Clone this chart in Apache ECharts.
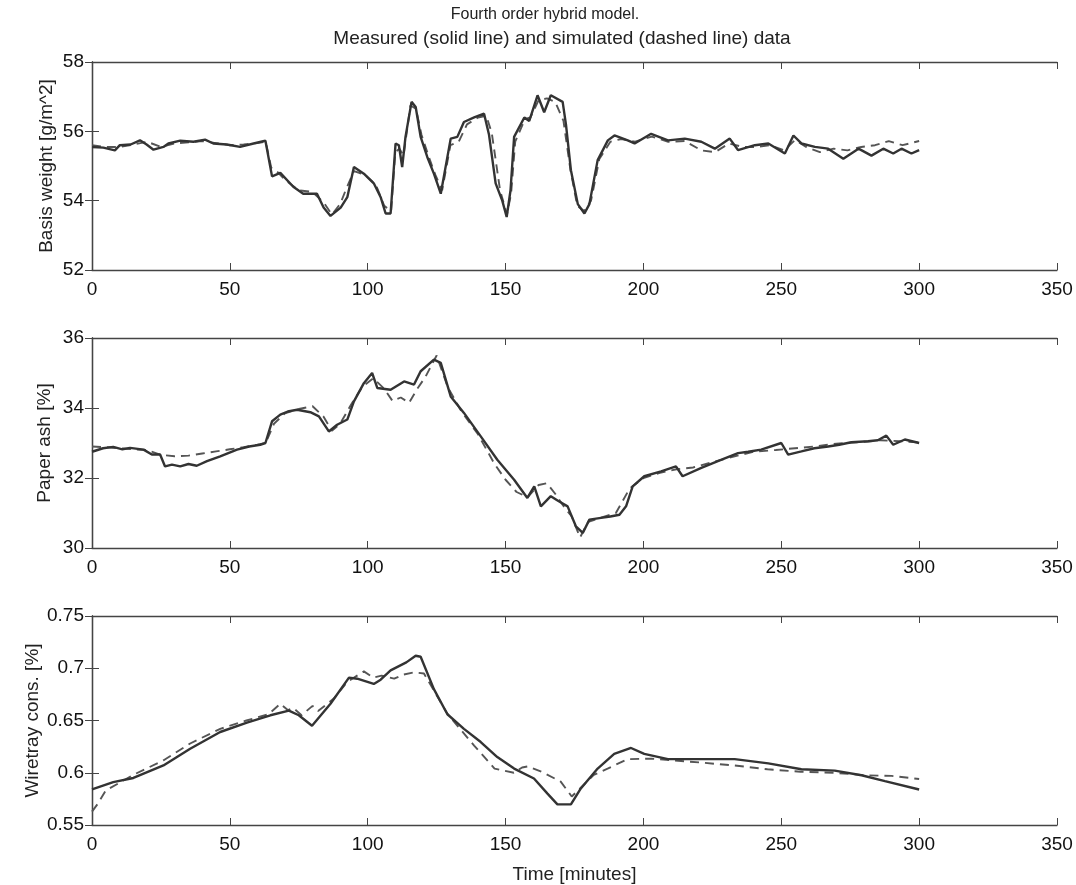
<!DOCTYPE html>
<html><head><meta charset="utf-8">
<script src="https://cdn.jsdelivr.net/npm/echarts@6/dist/echarts.min.js"></script>
<style>html,body{margin:0;padding:0;background:#fff}#c{width:1076px;height:885px}</style>
</head><body><div id="c"></div>
<script>
// ---- Data ----
const titleLine1 = "Fourth order hybrid model.";
const titleLine2 = "Measured (solid line) and simulated (dashed line) data";
const xTicks = [0, 50, 100, 150, 200, 250, 300, 350];

// Basis weight [g/m^2]
const basisMeasT = [0,4.1,8.3,10.1,14,17.4,19.8,22.3,25.9,27.7,32,36.8,41,44,48.9,53.7,58.6,62.9,65.3,68.3,73,76.6,81.6,84,86.5,90.2,92.6,95,98.6,102.2,104.7,106.5,108.3,110.1,111.3,112.5,113.7,115.9,117.4,119.2,121.6,124,126.5,130.1,132.5,134.9,138.6,142.2,144,146.4,148.8,150.4,151.8,153.1,156.8,158.6,161.6,164,166.4,170.7,171.9,173.7,176.2,178.6,180.4,183.4,187.1,189.5,194.3,196.8,202.8,208.9,215,221,225.9,231.3,234.3,240.4,245.3,251.3,254.4,257.3,262.2,267,272.5,278,282.7,287,290.6,293.6,297.2,300];
const basisMeas  = [55.55,55.53,55.45,55.6,55.62,55.74,55.62,55.47,55.55,55.65,55.73,55.7,55.76,55.65,55.62,55.55,55.65,55.73,54.7,54.8,54.4,54.2,54.2,53.8,53.56,53.8,54.1,54.97,54.78,54.5,54.1,53.63,53.63,55.65,55.6,54.97,55.84,56.85,56.7,55.84,55.26,54.78,54.2,55.79,55.84,56.27,56.4,56.51,55.9,54.5,54.0,53.53,54.3,55.84,56.4,56.3,57.04,56.55,57.04,56.85,56.2,54.88,53.9,53.63,53.9,55.17,55.74,55.88,55.74,55.65,55.93,55.74,55.79,55.7,55.5,55.79,55.46,55.6,55.65,55.36,55.88,55.65,55.55,55.5,55.21,55.5,55.3,55.5,55.36,55.5,55.36,55.46];
const basisSimT = [0,5,10,15,20,25,30,35,40,45,50,55,60,63,65,67,70,75,80,84,87,90,92,95,99,103,106,108.5,110,111.5,113,115.5,117.5,119.5,122,124.5,127,130,133,136,140,143,145,148,150.5,152,153.5,157,159,162,165,168,171,173.5,176,178.5,181,184,188,192,197,203,209,215,221,226,231,236,241,246,251,255,259,264,269,274,279,284,289,294,300];
const basisSim  = [55.6,55.55,55.55,55.62,55.7,55.55,55.65,55.68,55.72,55.66,55.6,55.62,55.66,55.7,54.95,54.85,54.6,54.3,54.25,53.95,53.6,53.9,54.3,54.85,54.75,54.45,53.85,53.7,55.4,55.5,55.3,56.75,56.65,55.9,55.3,54.75,54.3,55.6,55.7,56.2,56.4,56.45,55.95,54.3,53.6,54.2,55.7,56.35,56.4,56.9,56.95,56.85,56.3,54.9,53.85,53.7,54.0,55.2,55.7,55.78,55.7,55.85,55.7,55.72,55.45,55.4,55.65,55.55,55.55,55.6,55.45,55.75,55.55,55.4,55.5,55.45,55.55,55.6,55.72,55.6,55.72];

// Paper ash [%]
const ashMeasT = [0,4,7.7,11,13.8,18.7,21.7,24.7,26.5,29,32,35,38,41.7,46.5,52.6,57,61,62.9,65.3,68.3,71,74.4,79.2,82.3,85.9,88.9,92.6,95,98.6,101.6,103.5,108.3,113.2,116.8,119.2,124,126.5,130.1,134.9,141,147,153.1,157.9,160.4,162.8,166.4,169,172.5,175.5,178,180.4,184.6,188,191.3,193.7,196.1,200.3,206.4,211.8,214.2,221,227,234.3,238,242.7,250,252.5,257.3,262,267,271,275.4,281.5,285,288.1,290.6,294.8,300];
const ashMeas  = [32.75,32.85,32.89,32.82,32.86,32.81,32.67,32.67,32.33,32.38,32.33,32.4,32.35,32.48,32.62,32.81,32.9,32.95,33.0,33.62,33.81,33.9,33.95,33.88,33.76,33.33,33.52,33.67,34.19,34.71,35.0,34.57,34.52,34.76,34.67,35.05,35.38,35.29,34.33,33.86,33.19,32.52,31.95,31.43,31.76,31.19,31.48,31.35,31.19,30.62,30.43,30.81,30.86,30.9,30.95,31.19,31.76,32.05,32.19,32.33,32.05,32.29,32.48,32.71,32.75,32.81,33.0,32.67,32.76,32.85,32.9,32.95,33.02,33.05,33.08,33.21,32.95,33.1,33.0];
const ashSimT = [0,5,10,15,20,25,30,35,40,45,50,55,60,63,66,70,75,80,84,87,90,94,98,102,106,109,112,115,118,121,125,129,134,140,146,150,154,158,162,165,168,171,174,177,180,184,190,195,200,206,212,218,225,232,240,248,255,262,270,278,286,293,300];
const ashSimD  = [32.9,32.88,32.85,32.82,32.8,32.66,32.62,32.64,32.7,32.76,32.82,32.88,32.95,33.0,33.55,33.85,33.97,34.05,33.75,33.35,33.55,34.1,34.6,34.85,34.55,34.2,34.3,34.15,34.55,34.9,35.5,34.6,33.9,33.25,32.4,31.95,31.6,31.45,31.8,31.85,31.55,31.2,30.9,30.3,30.75,30.85,31.0,31.7,32.0,32.15,32.25,32.3,32.45,32.6,32.75,32.8,32.85,32.9,32.98,33.02,33.08,33.05,33.02];

// Wiretray cons. [%]
const wireMeasT = [0,7.7,15,25.9,35.6,46.5,56.2,64.7,71.4,75,79.8,86.5,93.2,96.2,102.2,104.7,108.3,114,117.4,119.2,124,128.9,134.9,141,147,153.1,160.3,165.2,168.8,173.7,177.3,183.4,189.4,195.5,200.3,208.9,221,233.1,245.3,257.3,269.4,279.1,287.6,300];
const wireMeas  = [0.584,0.591,0.595,0.607,0.623,0.639,0.648,0.655,0.6595,0.655,0.645,0.666,0.691,0.69,0.685,0.689,0.698,0.7056,0.712,0.711,0.68,0.656,0.642,0.6294,0.615,0.604,0.5945,0.58,0.5697,0.5697,0.585,0.604,0.618,0.6237,0.618,0.613,0.613,0.613,0.609,0.6033,0.602,0.5976,0.592,0.584];
const wireSimT = [0,2,5,15,26,35.6,46.5,56,64,68.3,71,73,76,80,82,87.7,92.6,98.6,102,105,109.6,113,116.8,120.4,129,138.6,146,153,156,158,163,170,174,177,182,187,194.3,203,221,233,245,257,269,281,290,300];
const wireSim  = [0.5628,0.57,0.583,0.598,0.612,0.628,0.642,0.65,0.656,0.666,0.66,0.662,0.655,0.664,0.659,0.671,0.687,0.697,0.691,0.693,0.69,0.694,0.696,0.695,0.656,0.626,0.604,0.6,0.605,0.606,0.601,0.5915,0.5773,0.585,0.598,0.604,0.613,0.6135,0.6097,0.607,0.6033,0.601,0.6,0.5975,0.597,0.594];

// ---- Chart ----
const zip = (t, v) => t.map((x, i) => [x, v[i]]);
const FONT = 'Liberation Sans, Arial, Helvetica, sans-serif';
const grids = [
  {left: 92, right: 19, top: 62, height: 208},
  {left: 92, right: 19, top: 338, height: 210},
  {left: 92, right: 19, top: 616, height: 210}
];
const yDefs = [
  {min: 52, max: 58, interval: 2, name: 'Basis weight [g/m^2]', gap: 36},
  {min: 30, max: 36, interval: 2, name: 'Paper ash [%]', gap: 38},
  {min: 0.55, max: 0.75, interval: 0.05, name: 'Wiretray cons. [%]', gap: 50}
];
const axisLine = {show: true, lineStyle: {color: '#444', width: 1.3}};
const tick = {inside: true, length: 7, lineStyle: {color: '#444'}};
const xAxes = [], yAxes = [];
grids.forEach((g, i) => {
  xAxes.push({
    type: 'value', gridIndex: i, min: 0, max: 350, interval: 50, position: 'bottom',
    axisLine: axisLine, axisTick: tick, splitLine: {show: false},
    axisLabel: {color: '#111', fontSize: 19, fontFamily: FONT, margin: 10},
    name: i === 2 ? 'Time [minutes]' : '', nameLocation: 'middle', nameGap: 40,
    nameMoveOverlap: false,
    nameTextStyle: {color: '#222', fontSize: 19, fontFamily: FONT}
  });
  xAxes.push({
    type: 'value', gridIndex: i, min: 0, max: 350, interval: 50, position: 'top',
    axisLine: axisLine, axisTick: tick, splitLine: {show: false}, axisLabel: {show: false}
  });
  const y = yDefs[i];
  yAxes.push({
    type: 'value', gridIndex: i, min: y.min, max: y.max, interval: y.interval, position: 'left',
    axisLine: axisLine, axisTick: tick, splitLine: {show: false},
    axisLabel: {color: '#111', fontSize: 19, fontFamily: FONT, margin: 8},
    name: y.name, nameLocation: 'middle', nameRotate: 90, nameGap: y.gap,
    nameMoveOverlap: false,
    nameTextStyle: {color: '#222', fontSize: 19, fontFamily: FONT}
  });
  yAxes.push({
    type: 'value', gridIndex: i, min: y.min, max: y.max, interval: y.interval, position: 'right',
    axisLine: axisLine, axisTick: tick, splitLine: {show: false}, axisLabel: {show: false}
  });
});
const solid = (data, i) => ({
  type: 'line', xAxisIndex: i * 2, yAxisIndex: i * 2, data: data, symbol: 'none',
  lineStyle: {color: '#333', width: 2.4, type: 'solid'}, z: 3
});
const dashed = (data, i) => ({
  type: 'line', xAxisIndex: i * 2, yAxisIndex: i * 2, data: data, symbol: 'none',
  lineStyle: {color: '#555', width: 1.9, type: [9, 6]}, z: 2
});
const chart = echarts.init(document.getElementById('c'), null, {renderer: 'canvas'});
chart.setOption({
  animation: false,
  backgroundColor: '#fff',
  title: [
    {text: titleLine1, left: 540, top: 2, textAlign: 'center',
     textStyle: {fontSize: 16, fontWeight: 'normal', color: '#222', fontFamily: FONT}},
    {text: titleLine2, left: 557, top: 24, textAlign: 'center',
     textStyle: {fontSize: 19, fontWeight: 'normal', color: '#222', fontFamily: FONT}}
  ],
  grid: grids,
  xAxis: xAxes,
  yAxis: yAxes,
  series: [
    dashed(zip(basisSimT, basisSim), 0), solid(zip(basisMeasT, basisMeas), 0),
    dashed(zip(ashSimT, ashSimD), 1), solid(zip(ashMeasT, ashMeas), 1),
    dashed(zip(wireSimT, wireSim), 2), solid(zip(wireMeasT, wireMeas), 2)
  ]
});
</script></body></html>
